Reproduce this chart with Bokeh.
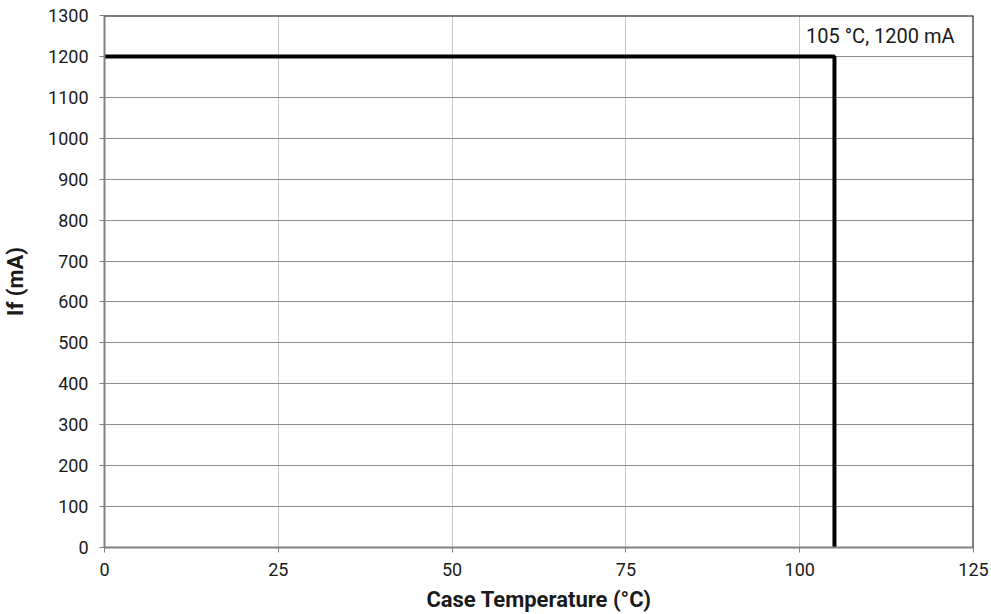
from bokeh.plotting import figure
from bokeh.models import Range1d, FixedTicker, Span, Label
from bokeh.embed import file_html
from bokeh.resources import INLINE

# data
temp_c = [0, 105, 105]
current_ma = [1200, 1200, 0]
x_ticks = [0, 25, 50, 75, 100, 125]
y_ticks = list(range(0, 1301, 100))
annotation_text = "105 °C, 1200 mA"
x_label = "Case Temperature (°C)"
y_label = "If (mA)"
x_min, x_max = 0, 125
y_min, y_max = 0, 1300

FONT = "Roboto"

p = figure(width=991, height=614, output_backend="svg", toolbar_location=None,
           x_range=Range1d(x_min, x_max), y_range=Range1d(y_min, y_max),
           min_border_left=104, min_border_right=18, min_border_top=15, min_border_bottom=67)
p.frame_width = 869
p.frame_height = 532
p.outline_line_color = None
p.background_fill_color = "white"

p.xaxis.ticker = FixedTicker(ticks=x_ticks)
p.yaxis.ticker = FixedTicker(ticks=y_ticks)
p.xgrid.ticker = FixedTicker(ticks=x_ticks)
p.ygrid.ticker = FixedTicker(ticks=y_ticks)
p.xgrid.grid_line_color = "#c6c6c6"
p.ygrid.grid_line_color = "#8c8c8c"
p.xgrid.grid_line_width = 1
p.ygrid.grid_line_width = 1

for ax in (p.xaxis[0], p.yaxis[0]):
    ax.axis_line_color = "#808080"
    ax.axis_line_width = 2
    ax.major_tick_line_color = "#808080"
    ax.major_tick_line_width = 1
    ax.major_tick_out = 5
    ax.major_tick_in = 0
    ax.minor_tick_line_color = None
    ax.major_label_text_font = FONT
    ax.major_label_text_font_size = "18px"
    ax.major_label_text_color = "#1a1a1a"
    ax.axis_label_text_font = FONT
    ax.axis_label_text_font_style = "bold"
    ax.axis_label_text_font_size = "22px"
    ax.axis_label_text_color = "#1a1a1a"

p.xaxis.axis_label = x_label
p.yaxis.axis_label = y_label
p.xaxis.major_label_standoff = 10
p.yaxis.major_label_standoff = 11
p.xaxis.axis_label_standoff = 8
p.yaxis.axis_label_standoff = 17

# top/right borders
p.add_layout(Span(location=y_max, dimension="width", line_color="black", line_width=2))
p.add_layout(Span(location=x_max, dimension="height", line_color="black", line_width=2))

p.line(temp_c, current_ma, line_color="black", line_width=4)

p.add_layout(Label(x=100.9, y=1251, text=annotation_text, text_font=FONT,
                   text_font_size="20px", text_baseline="middle", text_color="#1a1a1a"))

open("out.html", "w").write(file_html(p, INLINE))
